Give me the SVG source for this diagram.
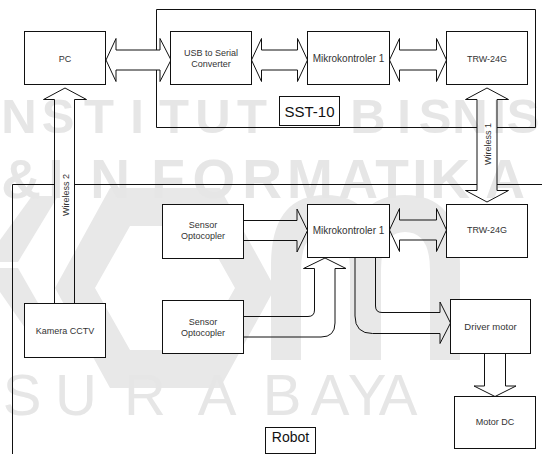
<svg xmlns="http://www.w3.org/2000/svg" width="542" height="454" viewBox="0 0 542 454">
<style>
.box{fill:#fff;stroke:#111;stroke-width:1}
.frame{fill:none;stroke:#111;stroke-width:1}
.arr{fill:none;stroke:#111;stroke-width:1;stroke-linejoin:miter}
.lbl{font-family:"Liberation Sans",Arial,sans-serif;font-size:9px;fill:#333;text-anchor:middle}
.big{font-family:"Liberation Sans",Arial,sans-serif;font-size:15px;fill:#111;text-anchor:middle}
.wm{font-family:"Liberation Sans",Arial,sans-serif;fill:#e6e6e6;text-anchor:middle}
.wmlogo{fill:#e8e8e8;fill-rule:evenodd}
</style>
<rect width="542" height="454" fill="#fff"/>
<g id="watermark">
<path class="wmlogo" d="M0,240 L32,196 L58,196 L18,262 L0,262 Z M0,268 L18,268 L58,338 L32,338 L0,292 Z"/>
<path class="wmlogo" d="M55,288 L110,188 L220,188 L275,288 L220,388 L110,388 Z M95,288 L130,226 L200,226 L235,288 L200,350 L130,350 Z"/>
<path class="wmlogo" d="M271,360 V265 Q271,195 326,195 Q350,195 365,210 Q380,195 405,195 Q460,195 460,265 V360 H430 V270 Q430,232 405,232 Q381,232 381,270 V360 H350 V270 Q350,232 326,232 Q301,232 301,270 V360 Z"/>
<text class="wm" style="font-size:49px;font-weight:bold" y="133" x="19 58 99 137 174 213 252">NSTITUT</text>
<text class="wm" style="font-size:49px;font-weight:bold" y="133" x="368 404 435 470 499 523">BISNIS</text>
<text class="wm" style="font-size:55px;font-weight:bold" y="198" x="21 56 110 168 214 262 310 358 392 420 450 505">&amp;INFORMATIKA</text>
<text class="wm" style="font-size:58px" y="415" x="22 76 145 217 282 330 367 398">SURABAYA</text>
</g>
<g id="frames">
<path class="frame" d="M156.5,50 V9.5 H535.5 V127.5 H497 M477,127.5 H156.5 V70"/>
<path class="frame" d="M12.5,454 V184.5 H54.5 M74.5,184.5 H477 M497,184.5 H542"/>
</g>
<g id="connectors">
<polygon class="arr" points="106,60 116,38.5 116,50 160,50 160,38.5 171,60 160,81.5 160,70 116,70 116,81.5"/>
<polygon class="arr" points="251.5,60 261.5,38.5 261.5,50 297.5,50 297.5,38.5 307.5,60 297.5,81.5 297.5,70 261.5,70 261.5,81.5"/>
<polygon class="arr" points="389.5,60 399.5,38.5 399.5,50 436.5,50 436.5,38.5 446.5,60 436.5,81.5 436.5,70 399.5,70 399.5,81.5"/>
<polygon class="arr" points="389.5,230 399.5,208.5 399.5,220 436.5,220 436.5,208.5 446.5,230 436.5,251.5 436.5,240 399.5,240 399.5,251.5"/>
<polygon class="arr" points="243.5,220.5 297,220.5 297,209 307.5,230.5 297,252 297,240.5 243.5,240.5"/>
<polygon class="arr" points="487,88 508.5,99.5 497,99.5 497,190.5 508.5,190.5 487,202 465.5,190.5 477,190.5 477,99.5 465.5,99.5"/>
<polygon class="arr" points="65,88 86.5,99.5 74.5,99.5 74.5,303.5 54.5,303.5 54.5,99.5 43.5,99.5"/>
<path class="arr" d="M243.5,316.5 H308 Q314.5,316.5 314.5,310 V268.5 H303.5 L325,258 L346,268.5 H335 V323 Q335,337 321,337 H243.5 Z"/>
<path class="arr" d="M355,257.5 V316 Q355,333.5 372.5,333.5 H440 V343.5 L450.5,323 L440,302 V312.5 H382 Q375.5,312.5 375.5,306 V257.5 Z"/>
<polygon class="arr" points="484.5,353.5 505.5,353.5 505.5,386 516,386 495,396.5 474,386 484.5,386"/>
<text class="lbl" transform="translate(490.5,144) rotate(-90)">Wireless 1</text>
<text class="lbl" transform="translate(68.5,195) rotate(-90)">Wireless 2</text>
</g>
<g id="sst10"><rect class="box" x="279.5" y="96.5" width="60" height="29"/><text class="big" x="309.5" y="116.5">SST-10</text></g>
<g id="robot"><rect class="box" x="265.5" y="427.5" width="50" height="26"/><text class="big" x="290.5" y="442" style="font-size:14px">Robot</text></g>
<g id="pc"><rect class="box" x="24.5" y="31.5" width="81" height="53"/><text class="lbl" x="65" y="61.5">PC</text></g>
<g id="usb"><rect class="box" x="170.5" y="31.5" width="81" height="53"/><text class="lbl" x="211" y="56">USB to Serial</text><text class="lbl" x="211" y="66.5">Converter</text></g>
<g id="mikro1"><rect class="box" x="307.5" y="31.5" width="82" height="53"/><text class="lbl" x="348.5" y="61.5" style="font-size:10px">Mikrokontroler 1</text></g>
<g id="trw1"><rect class="box" x="446.5" y="31.5" width="81" height="53"/><text class="lbl" x="487" y="61.5">TRW-24G</text></g>
<g id="mikro2"><rect class="box" x="307.5" y="204.5" width="82" height="53"/><text class="lbl" x="348.5" y="233.5" style="font-size:10px">Mikrokontroler 1</text></g>
<g id="trw2"><rect class="box" x="446.5" y="204.5" width="81" height="53"/><text class="lbl" x="487" y="232.5">TRW-24G</text></g>
<g id="sensor1"><rect class="box" x="162.5" y="204.5" width="81" height="54"/><text class="lbl" x="203" y="228">Sensor</text><text class="lbl" x="203" y="238.5">Optocopler</text></g>
<g id="sensor2"><rect class="box" x="162.5" y="300.5" width="81" height="53"/><text class="lbl" x="203" y="325">Sensor</text><text class="lbl" x="203" y="335.5">Optocopler</text></g>
<g id="kamera"><rect class="box" x="24.5" y="303.5" width="81" height="54"/><text class="lbl" x="65" y="334">Kamera CCTV</text></g>
<g id="driver"><rect class="box" x="450.5" y="299.5" width="80" height="54"/><text class="lbl" x="490.5" y="329.5" style="font-size:9.5px">Driver motor</text></g>
<g id="motordc"><rect class="box" x="454.5" y="396.5" width="81" height="52"/><text class="lbl" x="495" y="425">Motor DC</text></g>
</svg>
